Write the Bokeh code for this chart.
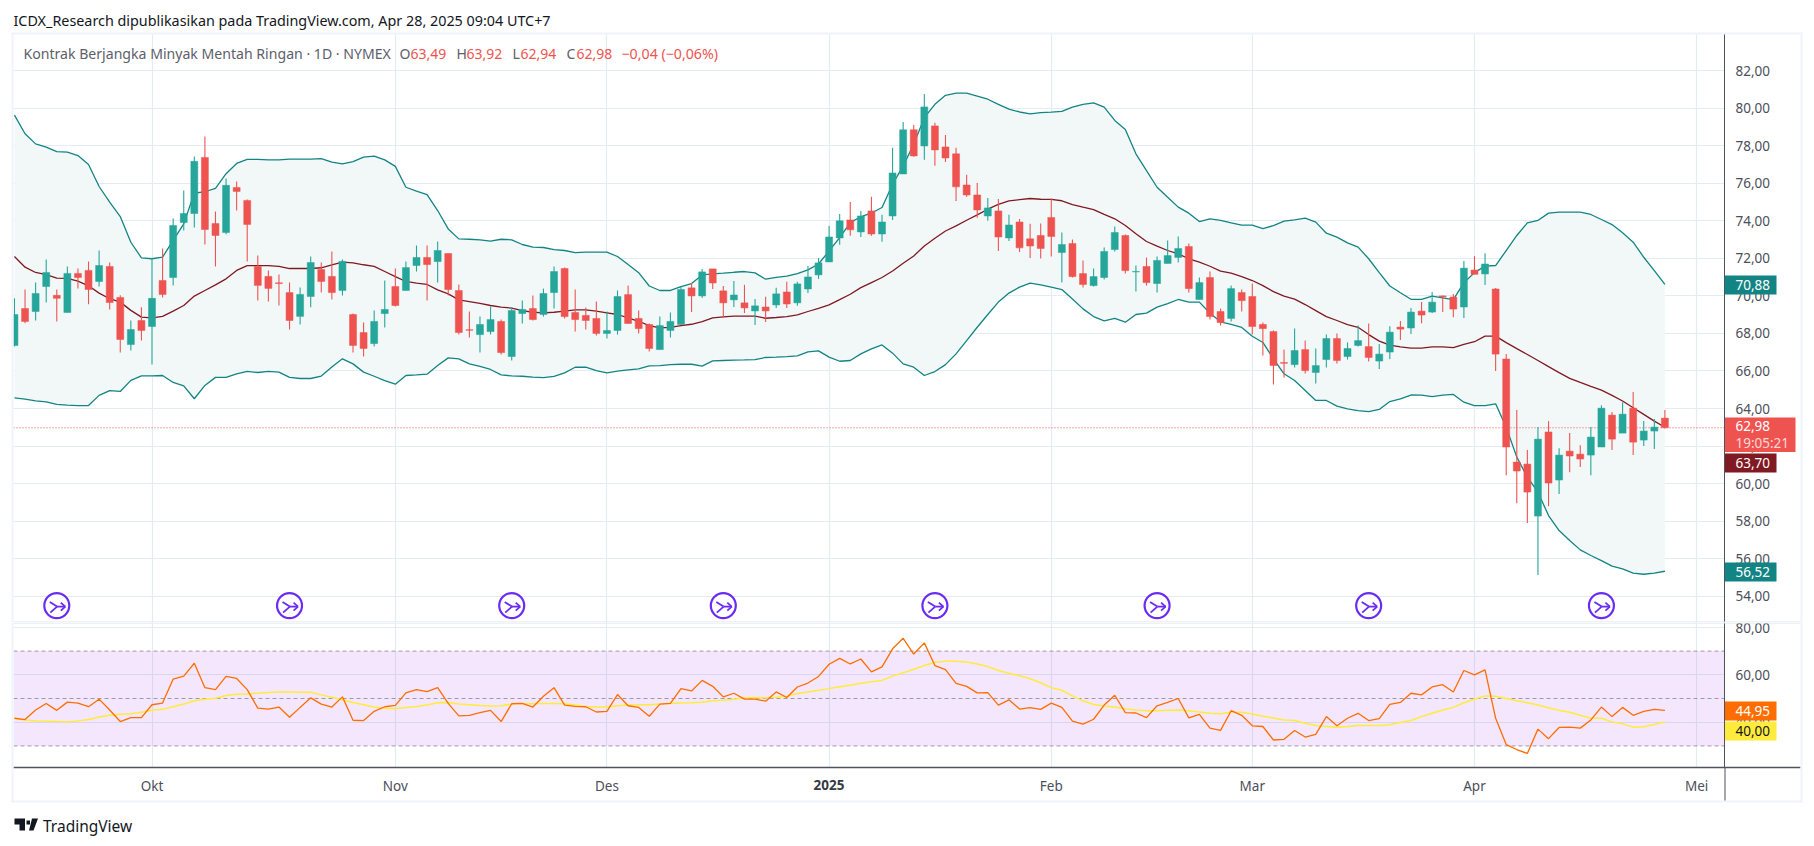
from bokeh.plotting import figure
from bokeh.layouts import column
from bokeh.models import (Range1d, FixedTicker, LinearAxis, Grid, BoxAnnotation, Label, PolyAnnotation)
from bokeh.embed import file_html
from bokeh.resources import INLINE

FONT = "Noto Sans"
UP, DOWN = "#26a69a", "#ef5350"
BAND, BASIS = "#138484", "#801922"
GRID = "#e3ecf3"
TXT = "#4c4f5a"

first_bar = -13
opens = [67.36,69.33,69.17,70.50,70.03,69.12,71.20,71.36,70.77,71.57,
 69.92,67.41,68.69,68.37,70.82,70.98,73.91,74.39,77.38,73.86,
 73.38,75.78,75.09,71.57,71.04,70.70,70.18,68.91,69.97,71.41,
 71.04,70.29,69.01,68.05,67.46,69.06,70.50,70.29,71.62,72.05,
 71.83,72.26,70.29,68.20,67.94,68.10,68.64,66.77,69.06,69.33,
 69.01,70.18,71.46,69.12,68.96,68.80,68.00,68.16,70.07,68.80,
 68.48,67.14,68.16,68.48,70.43,70.00,71.44,70.27,69.79,69.63,
 69.20,69.41,69.52,70.21,69.63,70.37,71.12,71.81,73.09,74.05,
 73.41,74.53,73.30,74.26,76.50,78.85,77.99,79.06,77.94,77.57,
 75.91,75.38,74.26,74.53,73.09,73.94,73.04,73.22,74.18,72.31,
 72.79,71.19,70.55,70.98,72.47,73.22,71.28,71.57,70.66,71.73,
 72.05,72.63,69.81,70.98,69.17,68.80,70.18,69.97,68.48,68.10,
 66.45,66.34,67.14,65.92,66.61,67.73,66.77,67.36,67.30,66.53,
 67.01,68.34,68.29,69.19,69.14,70.00,69.94,69.41,71.38,71.17,
 70.37,66.64,61.15,61.04,58.27,62.75,60.19,61.73,61.57,61.52,
 61.95,63.65,62.69,64.02,62.32,62.80,63.49]
closes = [69.01,68.64,70.13,71.25,69.87,71.20,70.98,70.34,71.62,69.65,
 67.68,68.21,68.16,69.87,70.08,73.75,74.39,77.17,73.54,73.22,
 75.89,75.57,73.81,70.56,70.40,70.66,68.69,70.08,71.78,70.77,
 70.18,71.84,67.36,67.20,68.64,69.28,69.49,71.51,72.05,71.67,
 72.42,70.34,68.05,68.17,68.48,68.74,66.98,69.22,69.28,68.74,
 70.13,71.30,68.90,68.74,68.69,68.00,68.16,69.97,68.53,68.26,
 67.20,68.42,68.64,70.34,70.00,71.28,70.69,69.63,70.05,69.36,
 69.47,69.20,70.11,69.57,70.64,71.01,71.76,73.14,74.00,73.52,
 74.26,73.30,73.94,76.55,78.85,77.46,80.07,77.78,77.35,75.81,
 75.38,74.58,74.69,73.14,73.78,72.56,72.66,72.53,73.17,72.74,
 71.03,70.61,71.03,72.37,73.38,71.35,71.30,70.71,71.89,72.15,
 72.53,70.39,70.71,68.90,68.58,70.39,69.75,68.37,68.26,66.29,
 66.41,67.09,66.02,66.29,67.73,66.56,67.20,67.62,66.72,66.90,
 68.07,68.23,69.14,68.98,69.67,69.95,69.30,71.48,71.15,71.70,
 66.90,61.95,60.67,59.55,62.37,60.03,61.52,61.47,61.31,62.48,
 64.02,62.37,63.70,62.21,62.80,63.01,62.98]
highs = [69.87,70.34,70.72,71.94,70.34,71.57,71.46,71.84,72.42,71.78,
 70.03,68.69,69.39,72.00,72.53,74.13,75.62,77.43,78.50,74.50,
 76.26,76.10,75.14,72.16,71.36,71.14,70.72,70.45,72.10,71.78,
 72.37,71.94,69.06,68.58,69.22,70.82,71.46,71.83,72.69,72.69,
 72.90,72.26,70.61,69.17,68.90,69.44,68.74,69.38,69.75,70.02,
 70.39,71.57,71.51,70.34,69.38,69.70,69.17,70.29,70.55,69.22,
 68.53,68.90,69.12,70.50,70.69,71.44,71.44,70.53,70.80,70.59,
 69.84,69.95,70.43,70.75,70.75,71.60,72.02,73.73,74.37,75.01,
 74.53,75.28,74.32,77.89,79.27,79.11,80.76,79.22,78.58,77.89,
 76.45,76.02,75.22,75.17,74.32,74.10,73.84,73.86,75.19,73.38,
 73.01,71.89,71.46,72.58,73.70,73.27,71.62,72.05,72.10,72.95,
 73.17,72.79,70.98,71.30,69.33,70.55,70.34,70.66,68.58,68.16,
 67.14,68.26,67.62,67.20,67.94,68.00,67.52,68.42,68.53,67.44,
 68.39,68.66,69.35,69.67,70.21,70.02,70.10,71.86,72.12,72.28,
 70.42,66.90,63.92,61.79,63.01,63.33,61.89,62.69,62.05,63.01,
 64.18,63.81,64.34,64.88,63.33,63.44,63.92]
lows = [67.31,68.55,68.69,69.65,68.64,69.12,70.40,69.55,70.50,69.28,
 66.99,67.09,67.63,66.35,69.92,70.56,73.49,73.65,72.74,71.57,
 73.28,74.55,71.84,69.76,69.70,69.49,68.21,68.48,69.39,70.18,
 69.81,70.02,66.98,66.77,67.30,68.32,69.44,70.29,71.30,69.75,
 70.71,70.02,67.94,67.78,66.98,67.94,66.88,66.56,68.53,68.69,
 68.90,69.33,68.80,68.10,68.21,67.89,67.73,67.94,68.53,68.00,
 67.04,67.14,67.78,68.48,69.15,69.89,70.37,68.83,69.41,69.09,
 68.45,68.61,69.36,69.36,69.47,70.16,70.91,71.81,72.72,73.20,
 73.14,73.20,72.88,74.05,76.50,77.41,77.25,76.93,77.14,75.06,
 75.28,74.16,74.00,72.40,72.93,72.34,72.02,71.99,72.10,70.71,
 70.98,70.45,70.50,70.87,72.37,71.19,70.23,70.55,70.18,71.73,
 71.78,70.18,69.81,68.74,68.42,68.64,69.17,67.94,66.82,65.28,
 65.65,66.18,65.86,65.33,66.18,66.40,66.61,67.30,66.50,66.10,
 66.64,67.65,67.97,68.55,69.09,69.14,68.87,68.82,71.15,70.58,
 66.00,60.45,58.96,57.90,55.13,58.80,59.44,60.61,60.88,60.45,
 61.95,61.79,62.69,61.52,62.00,61.84,62.94]
bb_upper = [79.63,78.64,78.10,77.93,77.69,77.66,77.48,77.00,75.83,75.00,
 74.23,72.86,72.03,71.98,72.07,72.96,73.84,75.48,75.55,75.73,
 76.51,77.06,77.27,77.27,77.25,77.25,77.29,77.29,77.29,77.31,
 77.13,77.04,77.16,77.39,77.45,77.25,76.90,75.79,75.58,75.40,
 74.55,73.57,73.04,73.02,72.99,72.92,73.02,72.99,72.74,72.60,
 72.58,72.47,72.42,72.31,72.33,72.33,72.33,72.10,71.67,71.24,
 70.53,70.29,70.29,70.50,70.66,71.12,71.17,71.21,71.26,71.30,
 71.23,70.89,70.99,71.05,71.19,71.39,71.70,72.40,73.11,73.91,
 74.21,74.42,74.71,75.95,76.93,78.08,79.50,80.21,80.69,80.80,
 80.80,80.64,80.48,80.21,79.95,79.80,79.70,79.77,79.79,79.83,
 80.06,80.20,80.29,80.06,79.35,78.87,77.57,76.68,75.79,75.26,
 74.73,74.41,73.96,74.11,74.02,73.89,73.77,73.77,73.59,73.75,
 73.98,74.05,74.14,73.93,73.34,73.13,72.83,72.60,71.98,71.24,
 70.53,70.17,69.82,69.82,69.99,69.90,69.80,70.70,71.24,71.59,
 71.62,72.42,73.22,73.89,74.02,74.41,74.46,74.46,74.46,74.34,
 74.07,73.80,73.36,72.86,72.06,71.35,70.61]
bb_basis = [72.10,71.53,71.25,71.14,70.95,70.93,70.79,70.54,70.15,69.85,
 69.67,69.23,68.87,68.83,68.91,69.19,69.49,69.99,70.29,70.59,
 70.91,71.36,71.61,71.61,71.61,71.57,71.46,71.46,71.46,71.50,
 71.66,71.80,71.76,71.66,71.57,71.30,71.03,70.77,70.68,70.61,
 70.32,70.11,69.79,69.70,69.60,69.49,69.40,69.35,69.22,69.13,
 69.10,69.13,69.19,69.26,69.26,69.19,69.10,69.01,68.83,68.65,
 68.42,68.30,68.32,68.42,68.49,68.63,68.83,68.88,68.92,68.92,
 68.92,68.81,68.85,68.90,68.99,69.17,69.34,69.52,69.80,70.09,
 70.44,70.71,70.98,71.33,71.74,72.13,72.66,73.07,73.46,73.73,
 74.03,74.32,74.62,74.88,75.06,75.13,75.19,75.15,75.14,75.07,
 74.87,74.73,74.60,74.34,74.11,73.75,73.31,72.90,72.65,72.42,
 72.24,71.98,71.80,71.58,71.32,71.21,71.03,70.82,70.55,70.23,
 69.99,69.83,69.54,69.22,68.90,68.69,68.47,68.33,67.94,67.59,
 67.38,67.29,67.22,67.22,67.28,67.28,67.24,67.42,67.56,67.86,
 67.86,67.51,67.19,66.88,66.56,66.23,65.91,65.61,65.39,65.18,
 64.98,64.70,64.40,64.04,63.69,63.33,63.00]
bb_lower = [64.57,64.50,64.41,64.36,64.22,64.18,64.15,64.16,64.70,64.95,
 64.91,65.50,65.74,65.74,65.76,65.39,65.21,64.52,65.23,65.66,
 65.66,65.85,65.98,65.92,65.98,65.94,65.66,65.60,65.60,65.73,
 66.21,66.65,66.38,65.94,65.72,65.49,65.30,65.76,65.79,65.83,
 66.29,66.70,66.65,66.38,66.24,66.08,65.79,65.74,65.72,65.67,
 65.65,65.71,65.90,66.20,66.20,66.02,65.90,65.99,66.06,66.11,
 66.27,66.29,66.34,66.36,66.36,66.26,66.54,66.56,66.58,66.59,
 66.61,66.72,66.74,66.77,66.81,67.02,67.07,66.74,66.52,66.56,
 66.91,67.18,67.39,66.95,66.38,66.20,65.76,65.97,66.34,66.91,
 67.62,68.33,69.01,69.67,70.15,70.47,70.68,70.59,70.47,70.34,
 69.84,69.31,68.90,68.67,68.80,68.60,69.01,69.08,69.40,69.59,
 69.81,69.67,69.67,69.08,68.62,68.48,68.32,67.85,67.52,66.65,
 65.85,65.49,64.96,64.43,64.43,64.13,63.98,63.89,63.84,63.95,
 64.37,64.51,64.72,64.71,64.64,64.71,64.75,64.34,64.16,64.16,
 64.25,63.00,61.41,60.34,59.54,58.30,57.50,56.97,56.47,56.17,
 55.90,55.60,55.46,55.23,55.17,55.23,55.33]
rsi = [41.67,41.11,45.14,47.92,45.00,48.47,48.06,46.53,49.72,45.14,
 40.28,41.94,41.94,47.36,48.06,58.19,59.44,64.86,54.58,53.75,
 59.31,58.47,53.75,45.97,45.56,46.39,42.08,46.25,50.28,47.64,
 46.39,50.69,40.83,40.69,44.58,46.53,47.08,52.36,53.75,52.92,
 54.58,47.92,42.64,42.92,44.03,45.00,40.28,47.78,47.92,46.39,
 50.97,54.58,47.22,46.67,46.53,44.31,44.58,51.67,46.94,46.25,
 42.50,47.64,47.92,54.17,53.19,57.64,55.14,50.69,52.22,49.72,
 49.72,48.89,52.78,50.42,54.86,56.53,59.31,64.44,66.94,64.58,
 66.67,61.25,63.33,70.97,75.40,68.75,73.47,63.89,62.22,56.39,
 55.14,52.36,52.50,47.22,49.44,45.56,46.11,45.42,48.06,46.25,
 40.42,39.17,41.25,47.22,51.39,44.03,43.89,41.94,46.94,48.33,
 50.00,41.81,43.33,37.50,36.53,44.86,42.92,38.47,38.19,32.50,
 32.78,36.53,33.75,34.86,42.36,38.47,41.67,43.75,40.69,41.53,
 47.50,48.33,52.22,51.53,54.86,55.83,52.78,61.81,60.00,62.08,
 41.67,30.56,28.47,26.81,37.08,33.06,37.78,37.92,37.50,40.97,
 46.39,42.36,46.25,42.92,44.58,45.42,44.95]
rsi_ma = [41.53,40.97,40.56,40.42,40.28,40.14,40.56,41.11,42.22,42.92,
 43.33,43.61,44.17,45.00,45.42,46.53,47.64,49.03,49.72,50.14,
 51.25,51.81,51.94,52.22,52.50,52.78,52.78,52.64,52.64,51.53,
 50.56,49.44,48.33,47.36,46.39,45.83,45.83,46.25,46.67,47.22,
 48.19,48.33,47.64,47.36,47.08,46.81,46.94,47.64,47.78,47.78,
 47.92,47.92,47.78,47.22,46.67,46.39,46.39,46.94,47.22,47.36,
 47.36,47.64,47.92,48.06,48.19,48.47,49.03,49.31,49.72,50.28,
 50.42,50.28,50.56,50.97,52.08,52.78,53.47,54.17,55.00,55.56,
 56.39,57.08,57.64,59.44,60.83,62.36,63.89,65.28,65.69,65.69,
 65.42,64.58,63.47,61.81,60.69,59.58,58.33,56.67,54.58,53.47,
 51.11,49.03,47.50,46.81,46.39,45.69,45.14,44.86,44.86,45.00,
 45.14,44.86,44.31,43.75,43.61,44.17,44.17,43.47,42.50,41.81,
 40.97,40.69,39.58,38.61,38.19,37.92,38.19,38.61,38.61,38.61,
 38.89,39.86,40.69,42.36,43.75,45.14,46.25,48.19,49.72,51.11,
 50.97,50.00,49.03,48.19,47.22,46.11,45.00,44.17,42.92,41.81,
 41.67,40.14,39.31,37.92,38.06,39.03,40.14]

price_ticks = [54,56,58,60,62,64,66,68,70,72,74,76,78,80,82]
rsi_ticks = [40,60,80]
rsi_levels = [30,50,70]
month_ticks = [0,23,43,64,85,104,125,146]
month_names = ["Okt","Nov","Des","","Feb","Mar","Apr","Mei"]
event_bars = [-9,13,34,54,74,95,115,137]
event_level = 53.5
last_price = 62.98

n = len(closes)
for arr in (opens,highs,lows,bb_upper,bb_basis,bb_lower,rsi,rsi_ma):
    assert len(arr)==n, len(arr)
bars = list(range(first_bar, first_bar+n))

def comma(v): return f"{v:.2f}".replace(".",",")

W = 1814
P_H, Q_H = 622, 222
Q_TOP = P_H
x_range = Range1d(-14.32, 157.14)
X_LEFT, X_AXIS, X_RIGHT = -13.09, 148.63, 155.83      # pane left edge, scale line, outer edge
P_BOTTOM, P_TOP = 52.60, 83.98
Q_BOTTOM, Q_TOP_V = 20.76, 82.07
PX_X = (x_range.end-x_range.start)/W
PX_Y = (85.74-52.60)/P_H

def make(h, y0, y1):
    f = figure(width=W, height=h, x_range=x_range, y_range=Range1d(y0, y1),
               x_axis_location=None, y_axis_location=None,
               output_backend="svg", toolbar_location=None,
               min_border=0, min_border_left=0, min_border_right=0, min_border_top=0, min_border_bottom=0,
               background_fill_color="white", border_fill_color="white", outline_line_color=None)
    f.grid.visible = False
    return f
p = make(P_H, P_BOTTOM, 85.74)
q = make(Q_H, -11.6, Q_TOP_V)

def style_axis(ax):
    ax.major_tick_line_color = None
    ax.minor_tick_line_color = None
    ax.major_tick_out = 0
    ax.major_tick_in = 0
    ax.minor_tick_out = 0
    ax.axis_line_color = "#50535e"
    ax.major_label_text_font = FONT
    ax.major_label_text_font_size = "13.5px"
    ax.major_label_text_color = TXT

for f, ticks, bounds in ((p, price_ticks, (P_BOTTOM, P_TOP)), (q, rsi_ticks, (Q_BOTTOM, Q_TOP_V))):
    ax = LinearAxis(fixed_location=X_AXIS, ticker=FixedTicker(ticks=ticks), bounds=bounds,
                    major_label_overrides={t: comma(t) for t in ticks})
    style_axis(ax)
    ax.axis_line_width = 1
    ax.major_label_standoff = 11
    f.add_layout(ax, "right")
    f.add_layout(Grid(dimension=1, ticker=FixedTicker(ticks=ticks), grid_line_color=GRID, grid_line_width=1.2))
    f.add_layout(Grid(dimension=0, ticker=FixedTicker(ticks=month_ticks), grid_line_color=GRID, grid_line_width=1.2))

xa = LinearAxis(fixed_location=Q_BOTTOM, ticker=FixedTicker(ticks=month_ticks), bounds=(X_LEFT, X_RIGHT),
                major_label_overrides=dict(zip(month_ticks, month_names)))
style_axis(xa)
xa.axis_line_width = 1.3
xa.major_label_standoff = 9
q.add_layout(xa, "below")

# price pane
p.varea(bars, bb_lower, bb_upper, fill_color="#f2f8f8", fill_alpha=1)
p.line(bars, bb_upper, line_color=BAND, line_width=1.3)
p.line(bars, bb_lower, line_color=BAND, line_width=1.3)
p.line(bars, bb_basis, line_color=BASIS, line_width=1.3)
p.segment([X_LEFT],[last_price],[X_AXIS],[last_price], line_color=DOWN, line_width=1.1, line_dash="1 2")

colors = [UP if c >= o else DOWN for o, c in zip(opens, closes)]
tops = [max(o, c) for o, c in zip(opens, closes)]
bots = [min(o, c) for o, c in zip(opens, closes)]
p.segment(bars, highs, bars, lows, line_color=colors, line_width=1.1)
p.vbar(x=bars, top=tops, bottom=bots, width=0.66, fill_color=colors, line_color=colors, line_width=0.5)

# event icons
ICON = "#6a2cf5"
p.scatter(event_bars, [event_level]*len(event_bars), size=25, marker="circle",
          fill_color="white", line_color=ICON, line_width=2.2)
strokes = [(-7,3.7,0.3,-1),(-6.5,-7,0.3,-1),(0.3,-1,8.5,-1),(4,3,8.5,-1),(4,-5,8.5,-1)]
for (x0,y0,x1,y1) in strokes:
    p.segment([e+x0*PX_X for e in event_bars],[event_level+y0*PX_Y for e in event_bars],
              [e+x1*PX_X for e in event_bars],[event_level+y1*PX_Y for e in event_bars],
              line_color=ICON, line_width=1.8)

# rsi pane
q.quad(left=[X_LEFT], right=[X_AXIS], bottom=[min(rsi_levels)], top=[max(rsi_levels)],
       fill_color="#8f0ff0", fill_alpha=0.1, line_color=None)
for lv in rsi_levels:
    q.segment([X_LEFT],[lv],[X_AXIS],[lv], line_color="#9b9ba6", line_width=1, line_dash="4 3")
q.line(bars, rsi_ma, line_color="#ffeb3b", line_width=1.5)
q.line(bars, rsi, line_color="#ff6d00", line_width=1.3)

# white margins around the panes hide the grid outside them
for f, y0, y1, yb, yt in ((p, P_BOTTOM, 85.74, P_BOTTOM, P_TOP), (q, -11.6, Q_TOP_V, Q_BOTTOM, Q_TOP_V)):
    f.quad(left=[x_range.start, X_AXIS, x_range.start], right=[X_LEFT, x_range.end, x_range.end],
           bottom=[y0, y0, yt], top=[y1, y1, y1], fill_color="white", line_color=None)
    f.quad(left=[x_range.start], right=[x_range.end], bottom=[y0], top=[yb], fill_color="white", line_color=None)

FIG_TOP = {id(p): 0, id(q): Q_TOP}
def box(f, x0, y0, x1, y1, color):
    top = FIG_TOP[id(f)]
    f.add_layout(BoxAnnotation(left=x0, right=x1, top=y0-top, bottom=y1-top,
                               left_units="canvas", right_units="canvas",
                               top_units="canvas", bottom_units="canvas",
                               fill_color=color, fill_alpha=1, line_color=None))
def text(f, x, y, s, color=TXT, size=13.5, style="normal", align="left", font=FONT):
    top = FIG_TOP[id(f)]
    f.add_layout(Label(x=x, y=y-top, x_units="canvas", y_units="canvas", text=s,
                       text_color=color, text_font=font, text_font_size=f"{size}px",
                       text_font_style=style, text_align=align, text_baseline="middle"))

BORDER = "#f0f3fa"
box(p, 11, 32, 13, 622, BORDER)
box(q, 11, 622, 13, 802, BORDER)
box(p, 11, 32, 1802, 34, BORDER)
box(p, 1800, 32, 1802, 622, BORDER)
box(q, 1800, 622, 1802, 802, BORDER)
box(q, 11, 800, 1802, 802, BORDER)
box(p, 13, 621, 1800, 622, "#e0e3eb")
box(q, 13, 622, 1800, 623, "#e0e3eb")
box(q, 1724, 767, 1725, 800, "#50535e")

# header
text(p, 13, 20, "ICDX_Research dipublikasikan pada TradingView.com, Apr 28, 2025 09:04 UTC+7", "#131722", 14.35)
text(p, 23, 53, "Kontrak Berjangka Minyak Mentah Ringan · 1D · NYMEX", "#5d606b", 14.1)
for x, s in ((399,"O"),(456,"H"),(512,"L"),(566,"C")):
    text(p, x, 53, s, "#5d606b", 14)
for x, s in ((410,comma(opens[-1])),(466,comma(highs[-1])),(520,comma(lows[-1])),(576,comma(closes[-1]))):
    text(p, x, 53, s, DOWN, 14)
text(p, 621, 53, "−0,04 (−0,06%)", DOWN, 14.2)

# scale labels
def tag(f, y0, y1, s, bg, fg="white", x1=1776):
    box(f, 1724.5, y0, x1, y1, bg)
    text(f, 1735, (y0+y1)/2, s, fg)
tag(p, 275, 294, "70,88", BAND)
box(p, 1724.5, 417, 1795, 451.5, DOWN)
text(p, 1735, 425.5, comma(last_price), "white")
text(p, 1735, 442, "19:05:21", "#fdd7d6")
tag(p, 453, 472, "63,70", BASIS)
tag(p, 562, 581, "56,52", BAND)
tag(q, 701, 720, "44,95", "#ff6d00")
tag(q, 721, 740, "40,00", "#ffeb3b", "#131722")

# bold year label
text(q, 828.5, 784, "2025", "#363a45", 13.5, "bold", "center")

# footer logo
def poly(f, xs, ys, color):
    top = FIG_TOP[id(f)]
    f.add_layout(PolyAnnotation(xs=xs, ys=[y-top for y in ys], xs_units="canvas", ys_units="canvas",
                                fill_color=color, fill_alpha=1, line_color=None))
poly(q, [14,24.5,24.5,19,19,14], [818,818,830,830,824,824], "#131722")
poly(q, [26,29.5,29.5,26], [820,820,824,824], "#131722")
poly(q, [31.5,37.5,33,28.5], [818,818,830,830], "#131722")
text(q, 42.5, 825, "TradingView", "#131722", 15.5)

open("out.html","w").write(file_html(column(p,q,spacing=0), INLINE))
